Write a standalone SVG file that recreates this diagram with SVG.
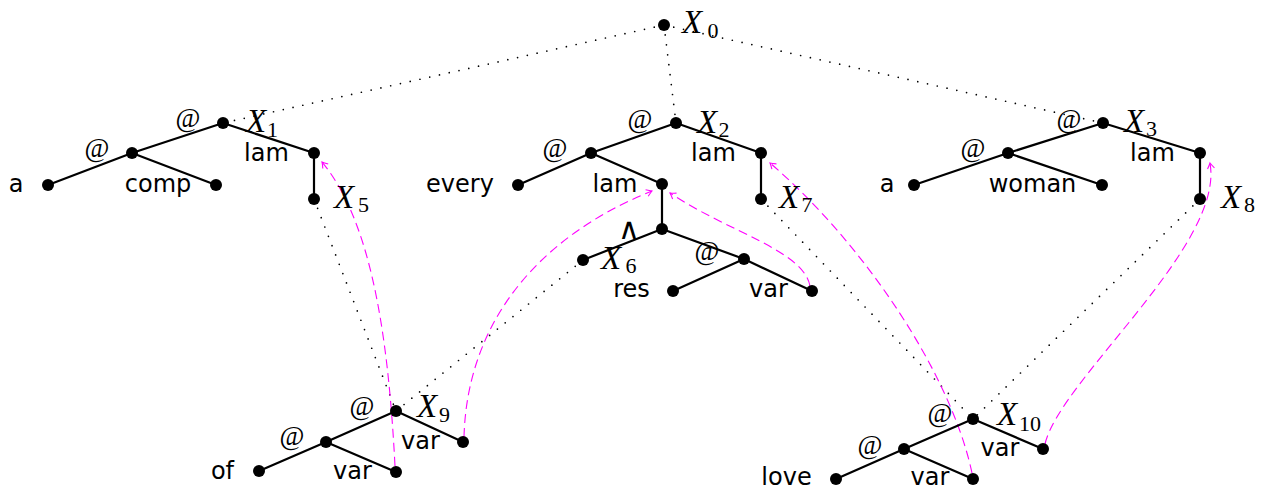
<svg xmlns="http://www.w3.org/2000/svg" width="1266" height="489" viewBox="0 0 1266 489">
<style>
.e{stroke:#000;stroke-width:2.2;fill:none;stroke-linecap:round}
.d{stroke:#000;stroke-width:1.7;fill:none;stroke-dasharray:0 10;stroke-linecap:round}
.m{stroke:#ff00ff;stroke-width:1.1;fill:none;stroke-dasharray:9 5}
.n{fill:#000}
.t{font-family:"DejaVu Sans",sans-serif;font-size:24px;fill:#000;text-anchor:middle}
.at{font-family:"Liberation Serif",serif;font-size:27px;fill:#000;text-anchor:middle}
.x{font-family:"Liberation Serif",serif;font-style:italic;font-size:33px;fill:#000}
.s{font-style:normal;font-size:22px;text-anchor:middle}
.w{font-family:"DejaVu Sans",sans-serif;font-weight:200;font-size:30px;fill:#000;text-anchor:middle}
</style>
<defs>
<marker id="ah" viewBox="-7 -5 9 10" refX="0" refY="0" markerWidth="9" markerHeight="10" orient="auto" markerUnits="userSpaceOnUse">
<path d="M-5.5,-3.5 Q-2,-1 0,0 Q-2,1 -5.5,3.5" fill="none" stroke="#ff00ff" stroke-width="1.1" stroke-dasharray="none"/>
</marker>
</defs>
<g id="connectors">
<line class="d" x1="664" y1="25" x2="223" y2="123"/>
<line class="d" x1="664" y1="25" x2="676" y2="123"/>
<line class="d" x1="664" y1="25" x2="1103" y2="123"/>
<line class="d" x1="314" y1="199" x2="396" y2="411"/>
<line class="d" x1="583" y1="260" x2="396" y2="411"/>
<line class="d" x1="761" y1="199" x2="973" y2="419"/>
<line class="d" x1="1200" y1="199" x2="973" y2="419"/>
<path class="m" d="M395,466 C388,330 370,220 322,162" marker-end="url(#ah)"/>
<path class="m" d="M464,437 C467,325 535,238 652,191" marker-end="url(#ah)"/>
<path class="m" d="M810,286 C803,250 728,232 670,193" marker-end="url(#ah)"/>
<path class="m" d="M972,473 C950,370 860,240 770,163" marker-end="url(#ah)"/>
<path class="m" d="M1045,444 C1060,380 1225,245 1210,163" marker-end="url(#ah)"/>
</g>
<g id="X0">
<circle class="n" cx="664" cy="25" r="6"/>
<text class="x" x="682" y="33">X<tspan class="s" x="713" y="37.5">0</tspan></text>
</g>
<g id="tree1">
<line class="e" x1="223" y1="123" x2="132" y2="153"/>
<line class="e" x1="223" y1="123" x2="314" y2="153"/>
<line class="e" x1="132" y1="153" x2="48" y2="185"/>
<line class="e" x1="132" y1="153" x2="216" y2="185"/>
<line class="e" x1="314" y1="153" x2="314" y2="199"/>
<circle class="n" cx="223" cy="123" r="6"/>
<circle class="n" cx="132" cy="153" r="6"/>
<circle class="n" cx="48" cy="185" r="6"/>
<circle class="n" cx="216" cy="185" r="6"/>
<circle class="n" cx="314" cy="153" r="6"/>
<circle class="n" cx="314" cy="199" r="6"/>
<text class="at" x="188" y="127">@</text>
<text class="at" x="97" y="157">@</text>
<text class="t" x="16" y="192">a</text>
<text class="t" x="158" y="192">comp</text>
<text class="t" x="266.5" y="161">lam</text>
<text class="x" x="246" y="132">X<tspan class="s" x="272.5" y="136.5">1</tspan></text>
<text class="x" x="334" y="208">X<tspan class="s" x="363.5" y="212">5</tspan></text>
</g>
<g id="tree2">
<line class="e" x1="676" y1="123" x2="591" y2="153"/>
<line class="e" x1="676" y1="123" x2="761" y2="153"/>
<line class="e" x1="591" y1="153" x2="518" y2="185"/>
<line class="e" x1="591" y1="153" x2="662" y2="184"/>
<line class="e" x1="662" y1="184" x2="662" y2="229"/>
<line class="e" x1="662" y1="229" x2="583" y2="260"/>
<line class="e" x1="662" y1="229" x2="744" y2="259"/>
<line class="e" x1="744" y1="259" x2="673" y2="291"/>
<line class="e" x1="744" y1="259" x2="812" y2="291"/>
<line class="e" x1="761" y1="153" x2="761" y2="199"/>
<circle class="n" cx="676" cy="123" r="6"/>
<circle class="n" cx="591" cy="153" r="6"/>
<circle class="n" cx="518" cy="185" r="6"/>
<circle class="n" cx="662" cy="184" r="6"/>
<circle class="n" cx="662" cy="229" r="6"/>
<circle class="n" cx="583" cy="260" r="6"/>
<circle class="n" cx="744" cy="259" r="6"/>
<circle class="n" cx="673" cy="291" r="6"/>
<circle class="n" cx="812" cy="291" r="6"/>
<circle class="n" cx="761" cy="153" r="6"/>
<circle class="n" cx="761" cy="199" r="6"/>
<text class="at" x="640" y="128">@</text>
<text class="at" x="555" y="157">@</text>
<text class="at" x="707" y="260">@</text>
<text class="w" x="629" y="239">∧</text>
<text class="t" x="460" y="192">every</text>
<text class="t" x="615" y="192">lam</text>
<text class="t" x="713.5" y="161">lam</text>
<text class="t" x="631.5" y="297">res</text>
<text class="t" x="768.5" y="297">var</text>
<text class="x" x="697" y="133">X<tspan class="s" x="724" y="137">2</tspan></text>
<text class="x" x="601" y="268.5">X<tspan class="s" x="631" y="273">6</tspan></text>
<text class="x" x="779" y="208">X<tspan class="s" x="807" y="212">7</tspan></text>
</g>
<g id="tree3">
<line class="e" x1="1103" y1="123" x2="1008" y2="153"/>
<line class="e" x1="1103" y1="123" x2="1200" y2="153"/>
<line class="e" x1="1008" y1="153" x2="914" y2="185"/>
<line class="e" x1="1008" y1="153" x2="1102" y2="185"/>
<line class="e" x1="1200" y1="153" x2="1200" y2="199"/>
<circle class="n" cx="1103" cy="123" r="6"/>
<circle class="n" cx="1008" cy="153" r="6"/>
<circle class="n" cx="914" cy="185" r="6"/>
<circle class="n" cx="1102" cy="185" r="6"/>
<circle class="n" cx="1200" cy="153" r="6"/>
<circle class="n" cx="1200" cy="199" r="6"/>
<text class="at" x="1069" y="128">@</text>
<text class="at" x="973" y="157">@</text>
<text class="t" x="887" y="192">a</text>
<text class="t" x="1032.5" y="192">woman</text>
<text class="t" x="1152.5" y="161">lam</text>
<text class="x" x="1124" y="132">X<tspan class="s" x="1151.5" y="136">3</tspan></text>
<text class="x" x="1221" y="208">X<tspan class="s" x="1249.5" y="212">8</tspan></text>
</g>
<g id="tree4">
<line class="e" x1="396" y1="411" x2="326" y2="442"/>
<line class="e" x1="396" y1="411" x2="463" y2="442"/>
<line class="e" x1="326" y1="442" x2="259" y2="471"/>
<line class="e" x1="326" y1="442" x2="396" y2="472"/>
<circle class="n" cx="396" cy="411" r="6"/>
<circle class="n" cx="326" cy="442" r="6"/>
<circle class="n" cx="463" cy="442" r="6"/>
<circle class="n" cx="259" cy="471" r="6"/>
<circle class="n" cx="396" cy="472" r="6"/>
<text class="at" x="362" y="415">@</text>
<text class="at" x="292" y="445">@</text>
<text class="t" x="222.5" y="479">of</text>
<text class="t" x="352.5" y="479">var</text>
<text class="t" x="420.5" y="449">var</text>
<text class="x" x="417" y="417">X<tspan class="s" x="444.5" y="421.5">9</tspan></text>
</g>
<g id="tree5">
<line class="e" x1="973" y1="419" x2="904" y2="449"/>
<line class="e" x1="973" y1="419" x2="1043" y2="449"/>
<line class="e" x1="904" y1="449" x2="836" y2="479"/>
<line class="e" x1="904" y1="449" x2="973" y2="479"/>
<circle class="n" cx="973" cy="419" r="6"/>
<circle class="n" cx="904" cy="449" r="6"/>
<circle class="n" cx="1043" cy="449" r="6"/>
<circle class="n" cx="836" cy="479" r="6"/>
<circle class="n" cx="973" cy="479" r="6"/>
<text class="at" x="940" y="422">@</text>
<text class="at" x="870" y="454">@</text>
<text class="t" x="786.5" y="485">love</text>
<text class="t" x="930" y="485">var</text>
<text class="t" x="1000" y="456">var</text>
<text class="x" x="997" y="425">X<tspan class="s" x="1030" y="430.5">10</tspan></text>
</g>
</svg>
